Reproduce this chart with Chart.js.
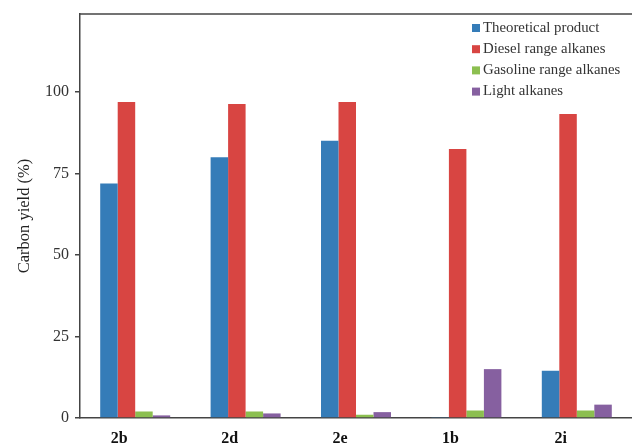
<!DOCTYPE html>
<html>
<head>
<meta charset="utf-8">
<script src="https://cdn.jsdelivr.net/npm/chart.js@4"></script>
<style>
  html, body { margin: 0; padding: 0; background: #fff; }
  #wrap { width: 632px; height: 445px; position: relative; }
</style>
</head>
<body>
<div id="wrap"><canvas id="grafico"></canvas></div>
<script>
// dados
const categorias = ['2b', '2d', '2e', '1b', '2i'];
const produtoTeorico = [72, 80, 85.1, 0.3, 14.5];
const alcanosDiesel = [97, 96.4, 97, 82.6, 93.3];
const alcanosGasolina = [2.0, 2.0, 1.0, 2.3, 2.3];
const alcanosLeves = [0.8, 1.4, 1.8, 15.0, 4.1];
const nomesSeries = ['Theoretical product', 'Diesel range alkanes', 'Gasoline range alkanes', 'Light alkanes'];
const cores = ['#357cb8', '#d84542', '#8cbf50', '#8660a0'];
const ticksY = [0, 25, 50, 75, 100];

const serif = '"Liberation Serif", "Times New Roman", serif';

// legenda desenhada dentro da área do gráfico
const legendaPlugin = {
    id: 'legendaInterna',
    afterDraw(chart) {
        const ctx = chart.ctx;
        const area = chart.chartArea;
        ctx.save();
        // borda superior
        ctx.strokeStyle = '#444';
        ctx.lineWidth = 1.5;
        ctx.beginPath();
        ctx.moveTo(area.left, area.top);
        ctx.lineTo(chart.width, area.top);
        ctx.stroke();

        ctx.font = '14.8px ' + serif;
        ctx.textBaseline = 'middle';
        chart.data.datasets.forEach(function(ds, i) {
            const y = 28 + i * 21.2;
            ctx.fillStyle = ds.backgroundColor;
            ctx.fillRect(472, y - 4, 8, 8);
            ctx.fillStyle = '#333';
            ctx.fillText(ds.label, 483, y);
        });
        ctx.restore();
    }
};

const valores = [produtoTeorico, alcanosDiesel, alcanosGasolina, alcanosLeves];

new Chart(document.getElementById('grafico').getContext('2d'), {
    type: 'bar',
    data: {
        labels: categorias,
        datasets: valores.map(function(v, i) {
            return {
                label: nomesSeries[i],
                data: v,
                backgroundColor: cores[i],
                borderWidth: 0,
                barPercentage: 1,
                categoryPercentage: 0.634
            };
        })
    },
    options: {
        responsive: true,
        maintainAspectRatio: false,
        animation: false,
        layout: { padding: { top: 13, right: 0, bottom: 0, left: 0 } },
        plugins: {
            legend: { display: false },
            tooltip: { enabled: false }
        },
        scales: {
            x: {
                grid: { display: false },
                border: { display: true, color: '#444', width: 1.5 },
                ticks: {
                    font: { family: serif, size: 16, weight: 'bold' },
                    color: '#111',
                    padding: 3,
                    labelOffset: -16
                },
                afterFit: function(scale) { scale.height = 27; }
            },
            y: {
                min: 0,
                max: 124,
                afterBuildTicks: function(scale) {
                    scale.ticks = ticksY.map(function(v) { return { value: v }; });
                },
                grid: {
                    drawOnChartArea: false,
                    tickLength: 5,
                    color: '#444',
                    lineWidth: 1.5
                },
                border: { display: true, color: '#444', width: 1.5 },
                ticks: {
                    font: { family: serif, size: 16, lineHeight: 1 },
                    color: '#333',
                    padding: 6
                },
                title: {
                    display: true,
                    text: 'Carbon yield (%)',
                    font: { family: serif, size: 16.5 },
                    color: '#222',
                    padding: { top: 15, bottom: 0 }
                },
                afterFit: function(scale) { scale.width = 80; }
            }
        }
    },
    plugins: [legendaPlugin]
});
</script>
</body>
</html>
